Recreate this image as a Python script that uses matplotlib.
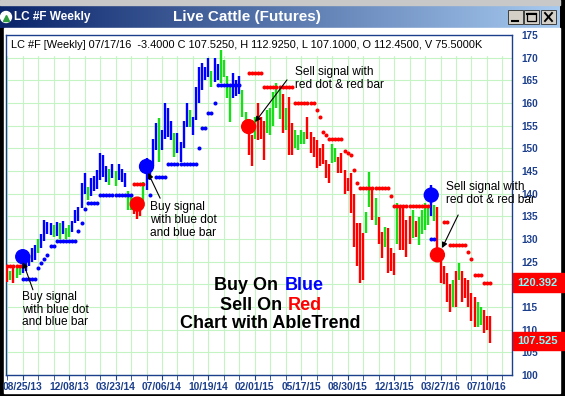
import numpy as np
import matplotlib.pyplot as plt
from matplotlib.patches import Rectangle, Circle
from matplotlib.colors import LinearSegmentedColormap
from matplotlib.transforms import blended_transform_factory

plt.rcParams['font.family'] = ['Liberation Sans', 'DejaVu Sans']

W, H = 565, 396

# weekly bars, week 0 = 08/25/13, first bar is week -5
first_week = -5
highs = [123.5, 123.0, 124.0, 123.5, 124.2,
         126.0, 127.0, 126.5, 128.0, 128.6, 130.0, 131.0, 134.2, 133.8, 133.5,
         133.0, 133.7, 133.5, 134.0, 132.5, 133.0, 134.0, 136.4, 137.0, 142.4,
         144.6, 141.5, 143.5, 144.0, 145.3, 149.0, 148.5, 146.0, 145.5, 146.5,
         145.0, 146.5, 145.5, 144.5, 140.5, 139.7, 138.5, 138.6, 138.0, 142.6,
         147.9, 147.0, 152.0, 155.6, 156.7, 154.0, 160.0, 159.0, 156.0, 153.4,
         153.4, 151.5, 156.0, 160.0, 158.5, 157.0, 163.5, 168.0, 168.8, 168.0,
         170.0, 167.0, 170.0, 168.5, 171.7, 169.5, 166.0, 163.5, 166.6, 165.0,
         166.0, 162.9, 158.0, 156.0, 153.0, 157.0, 160.0, 157.0, 156.0, 158.5,
         159.0, 162.5, 164.4, 163.0, 162.0, 159.0, 161.3, 155.6, 154.0, 153.0,
         154.0, 153.5, 157.0, 153.5, 152.5, 151.8, 150.0, 151.0, 147.4, 146.5,
         151.0, 150.0, 148.0, 149.0, 145.2, 143.5, 144.6, 140.0, 133.5, 133.5,
         131.3, 136.0, 144.8, 141.5, 139.0, 134.8, 131.5, 132.7, 132.4, 128.0,
         127.0, 138.0, 137.0, 137.0, 134.2, 135.0, 136.4, 134.0, 134.8, 136.5,
         138.0, 137.5, 142.0, 137.5, 137.0, 125.4, 124.0, 122.5, 120.0, 121.0,
         123.0, 124.7, 123.0, 121.5, 121.0, 118.0, 117.2, 116.0, 115.0, 114.3,
         113.0, 112.925]
lows = [120.5, 121.0, 120.3, 121.3, 122.0,
        122.5, 123.0, 124.0, 125.0, 125.4, 127.0, 128.0, 129.6, 131.0, 130.8,
        130.5, 130.6, 130.0, 131.0, 130.0, 130.5, 131.5, 133.6, 134.0, 136.8,
        140.0, 138.6, 139.5, 140.5, 141.0, 143.0, 143.7, 142.5, 142.0, 143.5,
        141.8, 143.0, 142.5, 141.5, 136.5, 136.4, 135.5, 134.5, 135.0, 137.0,
        140.8, 143.0, 146.0, 149.6, 147.0, 149.6, 152.0, 152.5, 151.8, 148.0,
        149.0, 147.0, 150.0, 154.7, 154.7, 153.0, 156.3, 160.0, 162.9, 165.0,
        165.7, 163.5, 164.6, 165.0, 164.4, 165.7, 161.0, 155.8, 161.0, 161.5,
        162.0, 157.0, 154.5, 148.5, 146.0, 152.0, 151.8, 152.0, 147.4, 153.4,
        153.0, 155.0, 159.0, 156.5, 153.4, 154.0, 148.5, 148.5, 150.0, 149.6,
        151.0, 151.0, 152.0, 149.0, 148.0, 145.6, 146.0, 146.5, 143.5, 142.4,
        146.7, 147.0, 144.6, 144.6, 140.0, 140.5, 135.7, 128.2, 124.0, 120.3,
        121.0, 131.3, 137.0, 134.2, 133.0, 129.0, 125.8, 128.2, 122.5, 123.0,
        122.0, 129.0, 127.6, 127.6, 126.0, 129.0, 130.2, 130.5, 128.7, 131.0,
        132.0, 133.0, 135.0, 134.0, 126.9, 120.3, 120.0, 116.0, 113.9, 115.0,
        115.0, 121.0, 116.0, 117.0, 115.0, 112.0, 110.6, 110.6, 111.0, 109.2,
        110.0, 107.1]
bar_codes = ('rgrgg'
             'bbbbbgbbbb' 'gbgbggbbbb' 'bgbbbbbbgb' 'gbbbggrrrg'
             'bbbbgbbbbg' 'bbbbgbbbbb' 'bgbbggggbb' 'bggrrgrrrg'
             'ggggrgrrgg' 'ggrrrrrrrr' 'ggrrrrrrrr' 'rggrgrrgrr'
             'rgrrrrgrgg' 'ggbgrrrrrg' 'rgrrrrrggr' 'rr')

# trend stop dots: (level, number of weeks, colour code), nan = no dot
stop_runs = [(124.0, 5, 'r'), (121.2, 5, 'b'), (123.6, 1, 'b'), (124.6, 1, 'b'),
             (125.6, 1, 'b'), (126.5, 1, 'b'), (128.5, 2, 'b'), (129.6, 7, 'b'),
             (131.7, 1, 'b'), (133.5, 1, 'b'), (136.6, 1, 'b'), (138.0, 4, 'b'),
             (139.6, 11, 'b'), (142.1, 4, 'r'), (np.nan, 1, 'b'), (139.7, 1, 'b'),
             (np.nan, 1, 'b'), (143.7, 4, 'b'), (146.5, 10, 'b'), (150.0, 1, 'b'),
             (154.5, 2, 'b'), (157.8, 2, 'b'), (160.0, 1, 'b'), (164.0, 8, 'b'),
             (np.nan, 2, 'r'), (166.7, 5, 'r'), (163.6, 10, 'r'), (160.0, 7, 'r'),
             (158.5, 1, 'r'), (157.0, 1, 'r'), (153.5, 1, 'r'), (153.0, 1, 'r'),
             (152.0, 5, 'r'), (149.5, 1, 'r'), (149.0, 1, 'r'), (148.6, 1, 'r'),
             (145.2, 1, 'r'), (142.4, 1, 'r'), (141.3, 10, 'r'), (139.5, 1, 'r'),
             (137.2, 12, 'r'), (130.0, 2, 'b'), (np.nan, 2, 'r'), (133.7, 2, 'r'),
             (128.7, 6, 'r'), (127.1, 1, 'r'), (125.6, 1, 'r'), (122.0, 3, 'r'),
             (120.4, 3, 'r')]

signal_week = [0, 37, 40, 73, 132, 134]
signal_price = [126.1, 137.7, 146.0, 154.8, 139.7, 126.5]
signal_code = ['b', 'r', 'b', 'r', 'b', 'r']

tick_labels = ['08/25/13', '12/08/13', '03/23/14', '07/06/14', '10/19/14', '02/01/15',
               '05/17/15', '08/30/15', '12/13/15', '03/27/16', '07/10/16']
header = ('LC #F [Weekly] 07/17/16  -3.4000 C 107.5250, H 112.9250, '
          'L 107.1000, O 112.4500, V 75.5000K')
last_stop, last_close = 120.392, 107.525

colors = {'b': '#0000ff', 'g': '#18e018', 'r': '#ff0000'}
navy = '#1c3f8c'

weeks = np.arange(first_week, first_week + len(highs))
stop_y = np.concatenate([[v] * n for v, n, c in stop_runs])
stop_c = np.array(list(''.join(c * n for v, n, c in stop_runs)))

fig = plt.figure(figsize=(W / 100, H / 100), dpi=100, facecolor='black')

### window frame, pixel coordinates
bg = fig.add_axes([0, 0, 1, 1], zorder=0)
bg.axis('off')
cmap = LinearSegmentedColormap.from_list('titlebar', ['#0a246a', '#a6caf0'])
bg.imshow(np.linspace(0, 1, 256).reshape(1, -1), extent=(0, 560, 28, 5), aspect='auto', cmap=cmap)
bg.add_patch(Rectangle((0, 0), 560, 5, color='#c8c8c8'))
bg.add_patch(Rectangle((4, 28), 556, 365, color='white'))
bg.set_xlim(0, W)
bg.set_ylim(H, 0)
bg.add_patch(Circle((6, 17), 5.5, color='white'))
bg.plot(6, 18, marker='^', color='#2c9c3c', ms=5)
bg.text(14, 17, 'LC #F Weekly', color='white', fontsize=8.5, weight='bold', va='center')
bg.text(247, 16.5, 'Live Cattle (Futures)', color='white', fontsize=11, weight='bold', va='center', ha='center')
for bx in [508, 524, 541]:
    bg.add_patch(Rectangle((bx, 10), 15, 14, facecolor='#d4d0c8', edgecolor='#404040', lw=0.7))
bg.plot([512, 518], [21, 21], color='black', lw=1.5)
bg.add_patch(Rectangle((527, 13), 9, 8, fill=False, edgecolor='black', lw=0.9))
bg.plot([527, 536], [13.5, 13.5], color='black', lw=1.5)
bg.plot([545, 552], [13, 21], color='black', lw=1.4)
bg.plot([545, 552], [21, 13], color='black', lw=1.4)

### chart
ax = fig.add_axes([6 / W, 1 - 375 / H, 506 / W, 340 / H], zorder=1)
ax.set_xlim(-5.4, 158.1)
ax.set_ylim(100, 175)
ax.set_axisbelow(True)
ax.yaxis.tick_right()
ax.set_yticks(np.arange(100, 176, 5))
ax.tick_params(axis='y', length=0, pad=6.5, labelsize=7.2, labelcolor=navy)
ax.set_xticks(np.arange(0, 151, 15), tick_labels)
ax.set_xticks(np.arange(-5, 156, 5), minor=True)
ax.tick_params(axis='x', which='both', length=3.5, color=navy, direction='out')
ax.tick_params(axis='x', which='major', labelsize=7.4, labelcolor=navy, pad=1.5)
for t in ax.get_xticklabels() + ax.get_yticklabels():
    t.set_fontweight('bold')
ax.grid(True, which='both', color='#c4f4c4', lw=0.8)
for s in ax.spines.values():
    s.set_color(navy)
    s.set_linewidth(1)
ax.add_patch(Rectangle((0, 320 / 340), 1, 20 / 340, transform=ax.transAxes, color='white', zorder=1))
ax.text(5 / 506, 330 / 340, header, transform=ax.transAxes, fontsize=7.9, va='center', zorder=2)

ax.vlines(weeks, lows, highs, colors=[colors[c] for c in bar_codes], lw=1.7, zorder=3)
for code in 'br':
    m = stop_c == code
    ax.plot(weeks[m], stop_y[m], 'o', color=colors[code], ms=2.9, mew=0, zorder=4)
ax.scatter(signal_week, signal_price, s=100, c=[colors[c] for c in signal_code], zorder=5)

arrow = dict(arrowstyle='-|>', color='black', lw=0.8, mutation_scale=8, shrinkA=0, shrinkB=0)
notes = [('Buy signal\nwith blue dot\nand blue bar', (-0.2, 118.6), (3.3, 118.8), (0.1, 124.9)),
         ('Buy signal\nwith blue dot\nand blue bar', (41.1, 138.4), (44.4, 139.0), (40.5, 144.6)),
         ('Sell signal with\nred dot & red bar', (88.0, 168.2), (85.4, 165.1), (75.1, 155.8)),
         ('Sell signal with\nred dot & red bar', (136.8, 142.8), (140.7, 135.3), (135.5, 128.0))]
for txt, pos, tail, head in notes:
    ax.text(pos[0], pos[1], txt, fontsize=8.6, va='top', ha='left', linespacing=1.1, zorder=6)
    ax.annotate('', xy=head, xytext=tail, arrowprops=arrow, zorder=6)

# price boxes on the right axis
tr = blended_transform_factory(ax.transAxes, ax.transData)
for val in [last_stop, last_close]:
    ax.add_patch(Rectangle((1.002, val - 2.0), 0.1, 4.0, transform=tr, color='#ff0000', clip_on=False, zorder=7))
    ax.text(1.01, val, f'{val:.3f}', transform=tr, color='#80ffff', fontsize=8, weight='bold',
            va='center', ha='left', clip_on=False, zorder=8)

# legend text in the middle
big = dict(fontsize=13, weight='bold', va='center')
fig.text(278 / W, 1 - 285 / H, 'Buy On', ha='right', color='black', **big)
fig.text(285 / W, 1 - 285 / H, 'Blue', ha='left', color='#0000ff', **big)
fig.text(282 / W, 1 - 305 / H, 'Sell On', ha='right', color='black', **big)
fig.text(288 / W, 1 - 305 / H, 'Red', ha='left', color='#ff0000', **big)
fig.text(270 / W, 1 - 324 / H, 'Chart with AbleTrend', ha='center', color='black', **big)

fig.savefig('out.png', dpi=100, facecolor='black')
